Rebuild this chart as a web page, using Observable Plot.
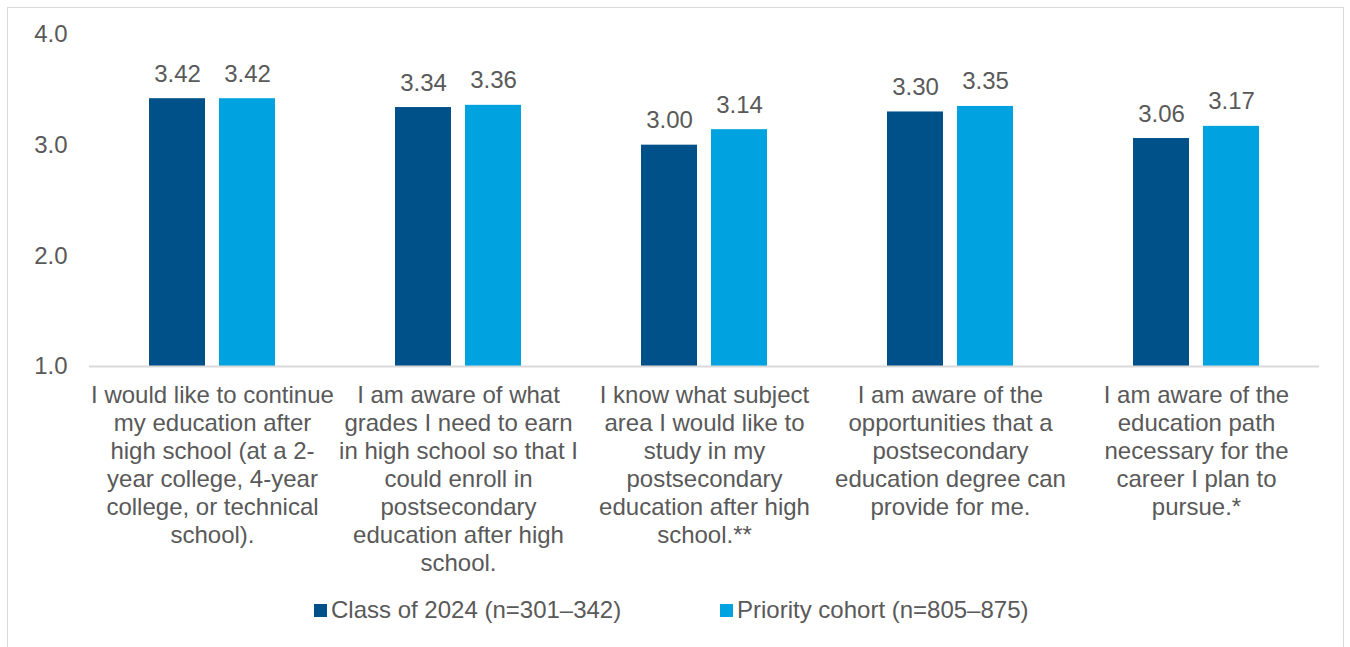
<!DOCTYPE html>
<html>
<head>
<meta charset="utf-8">
<script src="https://cdn.jsdelivr.net/npm/d3@7"></script>
<script src="https://cdn.jsdelivr.net/npm/@observablehq/plot@0.6"></script>
<style>
  html, body { margin: 0; padding: 0; background: #fff; }
  body { width: 1350px; height: 647px; position: relative; overflow: hidden; font-family: "Liberation Sans", Arial, sans-serif; }
  #frame { position: absolute; left: 7px; top: 7px; width: 1337px; height: 700px; border: 1px solid #d9d9d9; box-sizing: border-box; }
  #chart { position: absolute; left: 0; top: 0; }
  #legend { position: absolute; top: 596px; left: 0; width: 1350px; height: 30px; color: #595959; font-size: 24px; }
  .item { position: absolute; top: 0; display: flex; align-items: center; white-space: nowrap; }
  .sw { width: 13px; height: 13px; margin-right: 4px; }
</style>
</head>
<body>
<div id="frame"></div>
<div id="chart"></div>
<div id="legend"></div>
<script>
const categories = [
  "I would like to continue\nmy education after\nhigh school (at a 2-\nyear college, 4-year\ncollege, or technical\nschool).",
  "I am aware of what\ngrades I need to earn\nin high school so that I\ncould enroll in\npostsecondary\neducation after high\nschool.",
  "I know what subject\narea I would like to\nstudy in my\npostsecondary\neducation after high\nschool.**",
  "I am aware of the\nopportunities that a\npostsecondary\neducation degree can\nprovide for me.",
  "I am aware of the\neducation path\nnecessary for the\ncareer I plan to\npursue.*"
];
const seriesNames = ["Class of 2024 (n=301–342)", "Priority cohort (n=805–875)"];
const classOf2024 = [3.42, 3.34, 3.00, 3.30, 3.06];
const priorityCohort = [3.42, 3.36, 3.14, 3.35, 3.17];
const seriesColors = ["#00508A", "#00A3E0"];
const yTicks = [1, 2, 3, 4];

const seriesValues = [classOf2024, priorityCohort];
const data = [];
categories.forEach((c, i) => {
  seriesNames.forEach((s, j) => data.push({category: c, series: s, value: seriesValues[j][i]}));
});

const textColor = "#595959";
const chart = Plot.plot({
  width: 1350,
  height: 590,
  marginLeft: 89,
  marginRight: 31,
  marginTop: 34,
  marginBottom: 224,
  style: {fontFamily: '"Liberation Sans", Arial, sans-serif', fontSize: "24px", color: textColor, background: "transparent", overflow: "visible"},
  fx: {domain: categories, paddingInner: 0, paddingOuter: 0, label: null},
  x: {domain: seriesNames, paddingInner: 0.207, paddingOuter: 0.857, axis: null},
  y: {domain: [yTicks[0], yTicks[yTicks.length - 1]], label: null},
  color: {domain: seriesNames, range: seriesColors},
  marks: [
    Plot.axisY({ticks: yTicks, tickFormat: d => d.toFixed(1), tickSize: 0, tickPadding: 22, fontSize: 24, fill: textColor, label: null}),
    Plot.axisFx({anchor: "bottom", tickSize: 0, tickPadding: 16.5, fontSize: 24, lineHeight: 1.165, fill: textColor, label: null, textOverflow: null}),
    Plot.barY(data, {fx: "category", x: "series", y1: yTicks[0], y2: "value", fill: "series"}),
    Plot.ruleY([yTicks[0]], {stroke: "#d9d9d9", strokeWidth: 2}),
    Plot.text(data, {fx: "category", x: "series", y: "value", text: d => d.value.toFixed(2), lineAnchor: "bottom", dy: -17, fontSize: 24, fill: textColor})
  ]
});
document.getElementById("chart").appendChild(chart);

const legend = document.getElementById("legend");
const legendX = [314, 720];
seriesNames.forEach((s, j) => {
  const item = document.createElement("div");
  item.className = "item";
  item.style.left = legendX[j] + "px";
  const sw = document.createElement("span");
  sw.className = "sw";
  sw.style.background = seriesColors[j];
  const t = document.createElement("span");
  t.textContent = s;
  item.appendChild(sw);
  item.appendChild(t);
  legend.appendChild(item);
});
</script>
</body>
</html>
